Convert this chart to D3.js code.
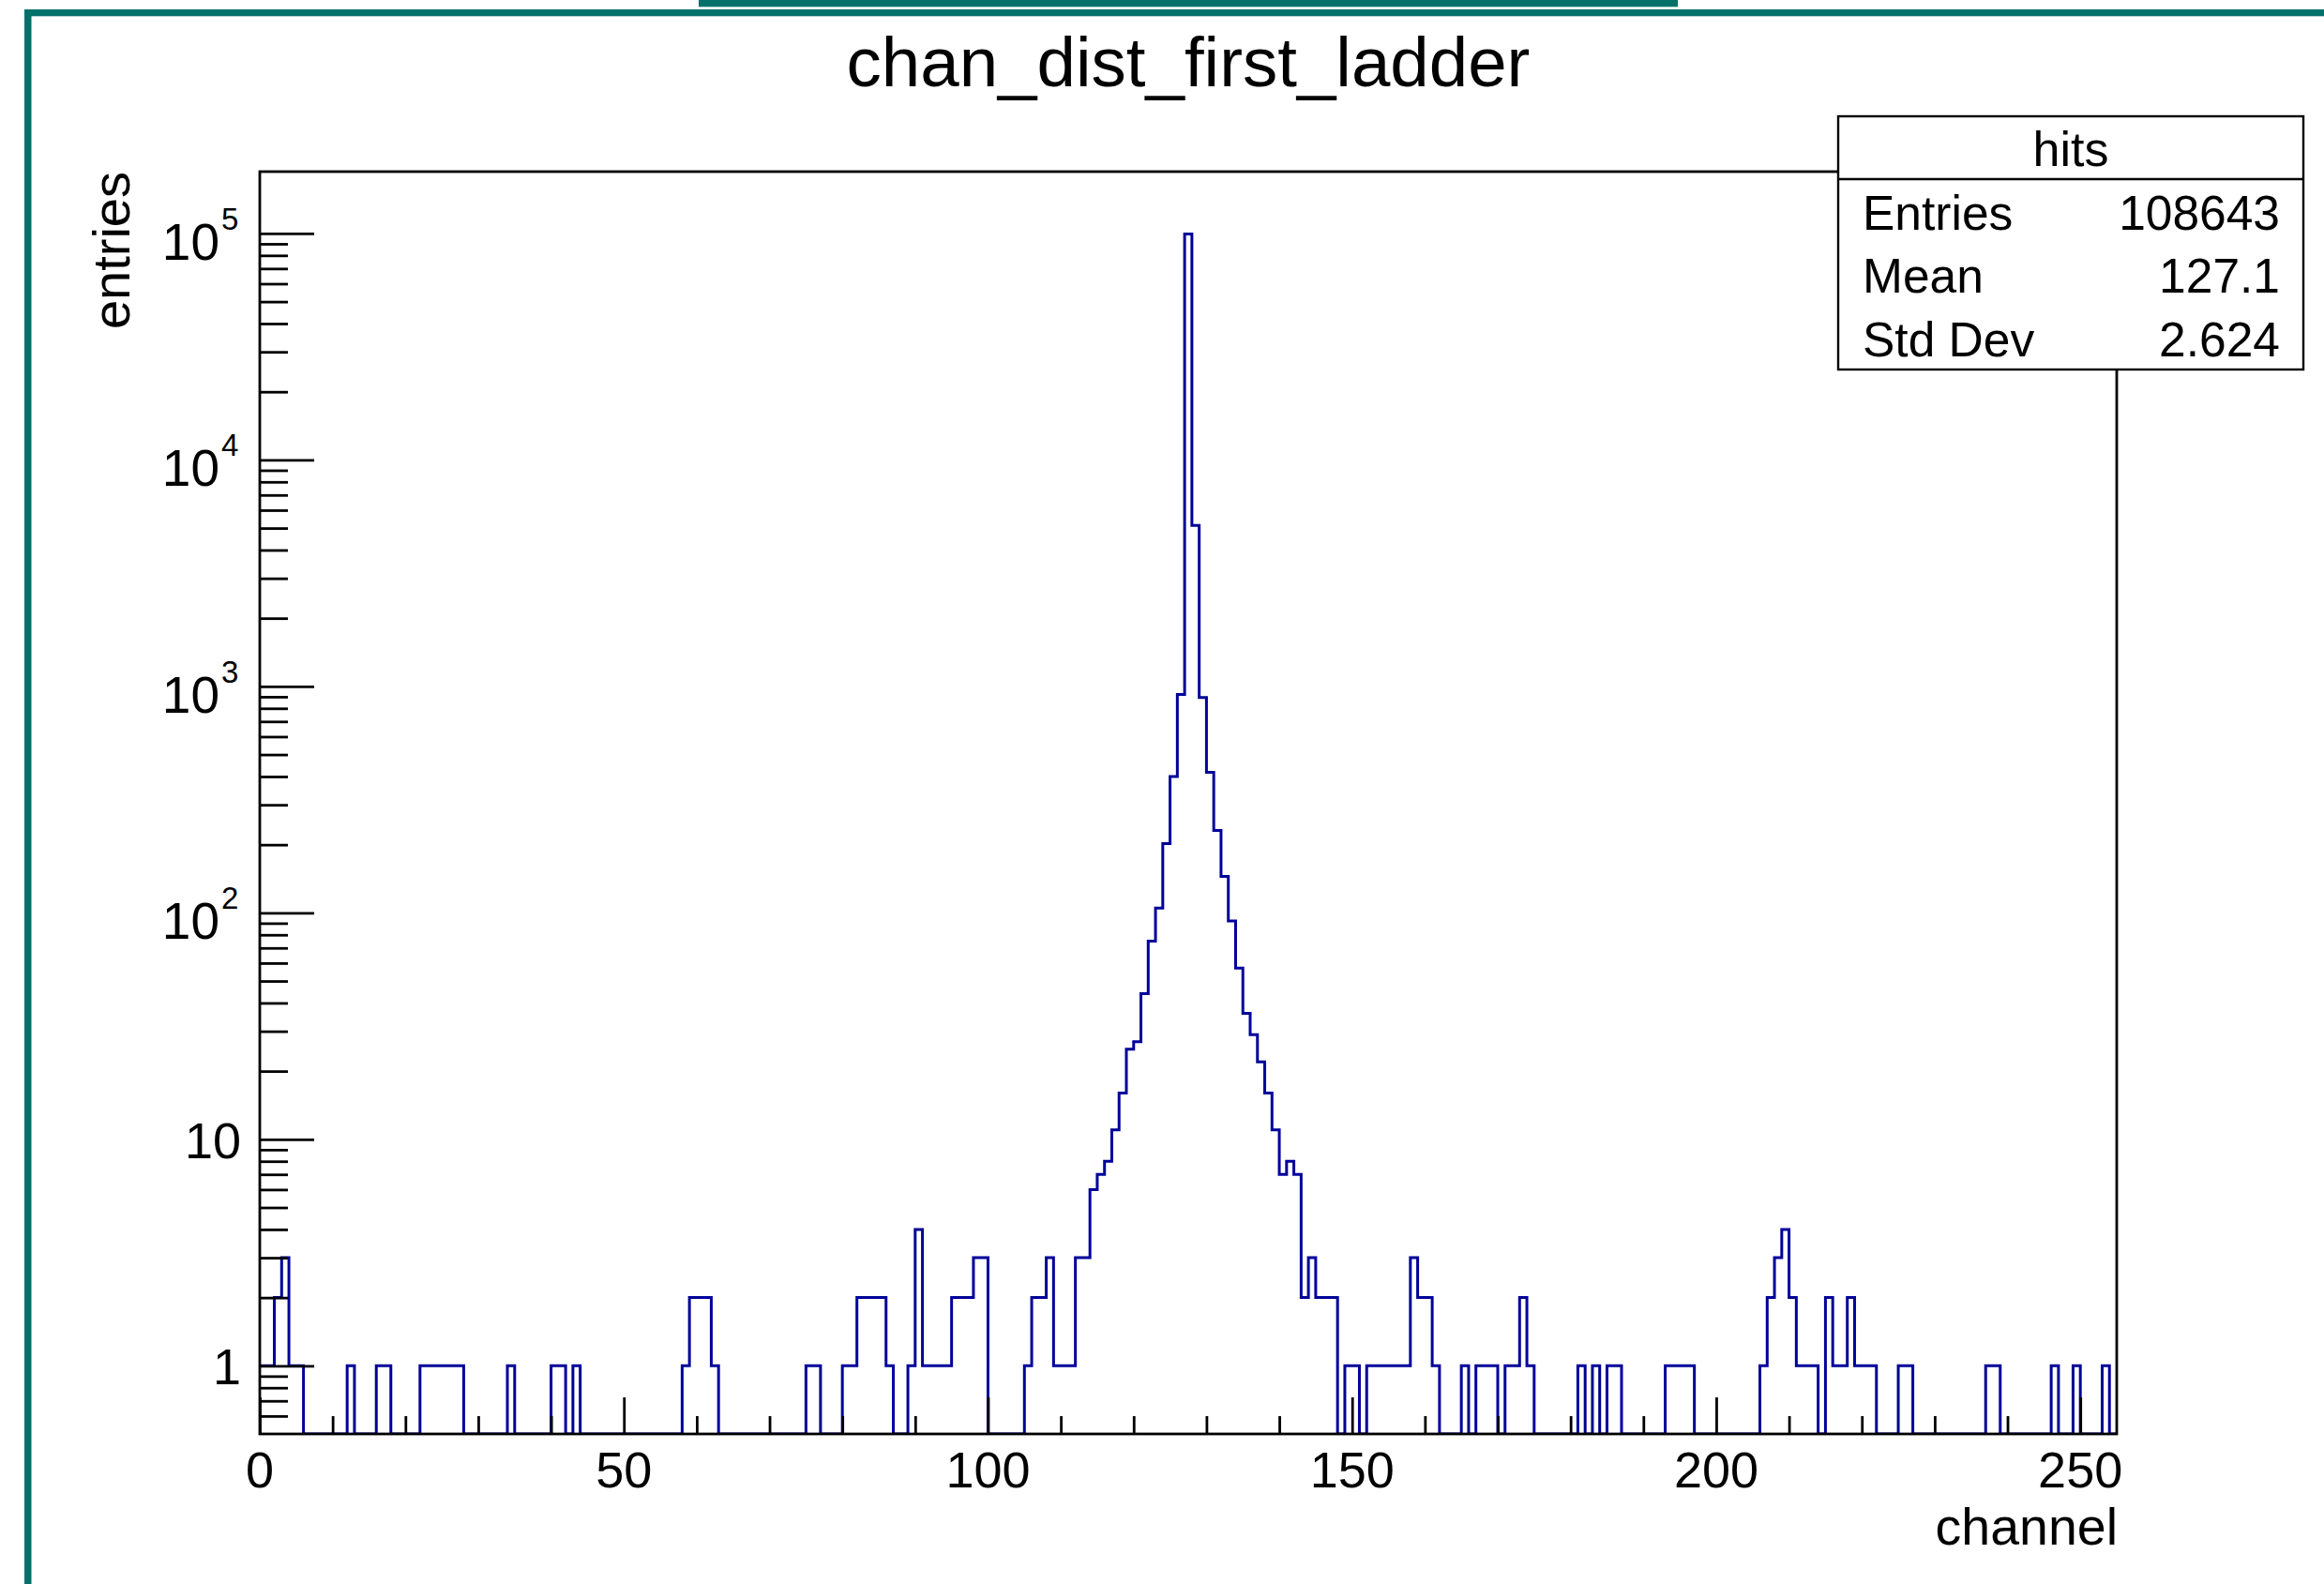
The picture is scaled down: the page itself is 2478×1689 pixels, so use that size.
<!DOCTYPE html>
<html>
<head>
<meta charset="utf-8">
<script src="https://cdn.jsdelivr.net/npm/d3@7"></script>
<style>
  html, body { margin: 0; padding: 0; background: #ffffff; }
  svg { display: block; }
  text { font-family: "Liberation Sans", Arial, Helvetica, sans-serif; fill: #000; }
</style>
</head>
<body>
<svg id="chart" width="2478" height="1689"></svg>
<script>
// ---- histogram content ----
const histTitle = "chan_dist_first_ladder";
const xAxisTitle = "channel";
const yAxisTitle = "entries";
const channelRange = [0, 255];          // one bin per channel
// entries per channel bin, channels 0..254
const counts = [
  1, 1, 2, 3, 1, 1, 0, 0, 0, 0,
  0, 0, 1, 0, 0, 0, 1, 1, 0, 0,
  0, 0, 1, 1, 1, 1, 1, 1, 0, 0,
  0, 0, 0, 0, 1, 0, 0, 0, 0, 0,
  1, 1, 0, 1, 0, 0, 0, 0, 0, 0,
  0, 0, 0, 0, 0, 0, 0, 0, 1, 2,
  2, 2, 1, 0, 0, 0, 0, 0, 0, 0,
  0, 0, 0, 0, 0, 1, 1, 0, 0, 0,
  1, 1, 2, 2, 2, 2, 1, 0, 0, 1,
  4, 1, 1, 1, 1, 2, 2, 2, 3, 3,
  0, 0, 0, 0, 0, 1, 2, 2, 3, 1,
  1, 1, 3, 3, 6, 7, 8, 11, 16, 25,
  27, 44, 75, 105, 202, 400, 922, 99528, 5140, 893,
  417, 231, 145, 92, 57, 36, 29, 22, 16, 11,
  7, 8, 7, 2, 3, 2, 2, 2, 0, 1,
  1, 0, 1, 1, 1, 1, 1, 1, 3, 2,
  2, 1, 0, 0, 0, 1, 0, 1, 1, 1,
  0, 1, 1, 2, 1, 0, 0, 0, 0, 0,
  0, 1, 0, 1, 0, 1, 1, 0, 0, 0,
  0, 0, 0, 1, 1, 1, 1, 0, 0, 0,
  0, 0, 0, 0, 0, 0, 1, 2, 3, 4,
  2, 1, 1, 1, 0, 2, 1, 1, 2, 1,
  1, 1, 0, 0, 0, 1, 1, 0, 0, 0,
  0, 0, 0, 0, 0, 0, 0, 1, 1, 0,
  0, 0, 0, 0, 0, 0, 1, 0, 0, 1,
  0, 0, 0, 1, 0
];
const yRange = [0.5, 1.875e5];
const xMajorTicks = [0, 50, 100, 150, 200, 250];
const xMinorTicks = [10, 20, 30, 40, 60, 70, 80, 90, 110, 120, 130, 140, 160, 170, 180, 190, 210, 220, 230, 240];
const yMajorTicks = [1, 10, 100, 1000, 10000, 100000];
const yTickLabels = [["1", ""], ["10", ""], ["10", "2"], ["10", "3"], ["10", "4"], ["10", "5"]];
const statsName = "hits";
const statsLabels = ["Entries", "Mean", "Std Dev"];
const statsValues = ["108643", "127.1", "2.624"];

// ---- layout ----
const frame = { left: 277, right: 2257, top: 183, bottom: 1529 };
const axisW = 2.8;
const histW = 3;
const histColor = "#000099";
const padColor = "#03716a";

const svg = d3.select("#chart");
svg.append("rect").attr("width", 2478).attr("height", 1689).attr("fill", "#fff");

// canvas decoration
svg.append("rect").attr("x", 745).attr("y", 0).attr("width", 1044).attr("height", 7.3).attr("fill", padColor);
svg.append("rect").attr("x", 26).attr("y", 10).attr("width", 2452).attr("height", 7.3).attr("fill", padColor);
svg.append("rect").attr("x", 26).attr("y", 10).attr("width", 7.5).attr("height", 1679).attr("fill", padColor);

const x = d3.scaleLinear().domain(channelRange).range([frame.left, frame.right]);
const y = d3.scaleLog().domain(yRange).range([frame.bottom, frame.top]);

// title
svg.append("text")
  .attr("x", (frame.left + frame.right) / 2).attr("y", 92)
  .attr("text-anchor", "middle").attr("font-size", 74.5)
  .text(histTitle);

// histogram outline
svg.append("clipPath").attr("id", "frameClip")
  .append("rect").attr("x", frame.left).attr("y", frame.top)
  .attr("width", frame.right - frame.left).attr("height", frame.bottom - frame.top);

const steps = [];
counts.forEach((v, i) => {
  steps.push([channelRange[0] + i, v]);
  steps.push([channelRange[0] + i + 1, v]);
});
const outline = d3.line()
  .x(d => x(d[0]))
  .y(d => d[1] > 0 ? y(d[1]) : y(yRange[0]));

svg.append("path")
  .attr("d", outline(steps))
  .attr("fill", "none")
  .attr("stroke", histColor)
  .attr("stroke-width", histW)
  .attr("stroke-linejoin", "miter")
  .attr("clip-path", "url(#frameClip)");

// frame
svg.append("rect")
  .attr("x", frame.left).attr("y", frame.top)
  .attr("width", frame.right - frame.left).attr("height", frame.bottom - frame.top)
  .attr("fill", "none").attr("stroke", "#000").attr("stroke-width", axisW);

function styleAxis(g) {
  g.select(".domain").remove();
  g.selectAll(".tick line").attr("stroke", "#000").attr("stroke-width", axisW);
  g.selectAll(".tick text").remove();
}

// y axis ticks (inward)
const yMinorTicks = y.ticks().filter(v => v > yRange[0] && v < yRange[1] && !yMajorTicks.includes(v));
svg.append("g").attr("transform", `translate(${frame.left},0)`)
  .call(d3.axisLeft(y).tickValues(yMinorTicks).tickSize(-30).tickSizeOuter(0))
  .call(styleAxis);
svg.append("g").attr("transform", `translate(${frame.left},0)`)
  .call(d3.axisLeft(y).tickValues(yMajorTicks).tickSize(-58).tickSizeOuter(0))
  .call(styleAxis);

// x axis ticks (inward)
svg.append("g").attr("transform", `translate(0,${frame.bottom})`)
  .call(d3.axisBottom(x).tickValues(xMinorTicks).tickSize(-19).tickSizeOuter(0))
  .call(styleAxis);
svg.append("g").attr("transform", `translate(0,${frame.bottom})`)
  .call(d3.axisBottom(x).tickValues(xMajorTicks).tickSize(-39).tickSizeOuter(0))
  .call(styleAxis);

// x tick labels
svg.append("g").selectAll("text").data(xMajorTicks).join("text")
  .attr("x", d => x(d)).attr("y", 1586)
  .attr("text-anchor", "middle").attr("font-size", 54)
  .text(d => d);

// y tick labels (powers of ten with superscript exponent)
const yl = svg.append("g");
yMajorTicks.forEach((v, i) => {
  const [base, exp] = yTickLabels[i];
  const ty = y(v);
  if (exp === "") {
    yl.append("text").attr("x", 257).attr("y", ty + 20)
      .attr("text-anchor", "end").attr("font-size", 54).text(base);
  } else {
    yl.append("text").attr("x", 234).attr("y", ty + 28)
      .attr("text-anchor", "end").attr("font-size", 55).text(base);
    yl.append("text").attr("x", 236).attr("y", ty - 4)
      .attr("text-anchor", "start").attr("font-size", 33).text(exp);
  }
});

// axis titles
svg.append("text")
  .attr("transform", `translate(138,${frame.top}) rotate(-90)`)
  .attr("text-anchor", "end").attr("font-size", 56)
  .text(yAxisTitle);
svg.append("text")
  .attr("x", frame.right + 1).attr("y", 1647)
  .attr("text-anchor", "end").attr("font-size", 55.5)
  .text(xAxisTitle);

// statistics box
const box = { left: 1960, right: 2456, top: 124, bottom: 394, divider: 191 };
const sb = svg.append("g");
sb.append("rect")
  .attr("x", box.left).attr("y", box.top)
  .attr("width", box.right - box.left).attr("height", box.bottom - box.top)
  .attr("fill", "#fff").attr("stroke", "#000").attr("stroke-width", 2.4);
sb.append("line")
  .attr("x1", box.left).attr("x2", box.right)
  .attr("y1", box.divider).attr("y2", box.divider)
  .attr("stroke", "#000").attr("stroke-width", 2.4);
sb.append("text")
  .attr("x", (box.left + box.right) / 2).attr("y", 177)
  .attr("text-anchor", "middle").attr("font-size", 52)
  .text(statsName);
const rowBase = [245, 312, 380];
statsLabels.forEach((lab, i) => {
  sb.append("text").attr("x", 1986).attr("y", rowBase[i])
    .attr("font-size", 51.5).text(lab);
  sb.append("text").attr("x", 2431).attr("y", rowBase[i])
    .attr("text-anchor", "end").attr("font-size", 51.5).text(statsValues[i]);
});
</script>
</body>
</html>
